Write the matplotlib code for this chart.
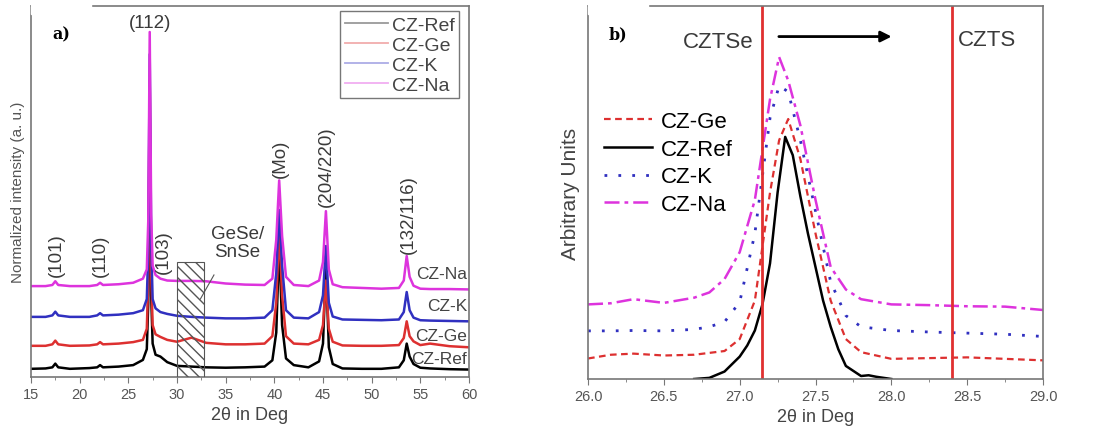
"""
XRD patterns of CZTSe films: full scan (a) and zoom on the (112) reflection (b).
"""

import matplotlib
matplotlib.use('Agg')
import matplotlib.pyplot as plt
from matplotlib.patches import Rectangle

plt.rcParams['font.family'] = ['Liberation Sans', 'DejaVu Sans']

# ---- panel a: full 2theta scan ----
two_theta = [15, 16.5, 17.2, 17.5, 17.8, 19, 21, 21.8, 22.1, 22.4, 24, 25.5, 26.5, 26.9,
             27.05, 27.2, 27.35, 27.5, 27.8, 28.3, 29, 30, 31.5, 33, 35, 37, 39, 39.8,
             40.2, 40.5, 40.8, 41.2, 42, 43.5, 44.6, 45.0, 45.3, 45.6, 46, 47, 49, 51,
             52.8, 53.3, 53.6, 53.9, 54.3, 55, 56, 58, 60]
ref_a = [2.2, 2.3, 2.6, 3.6, 2.6, 2.2, 2.4, 2.6, 3.2, 2.6, 2.8, 3.2, 4.6, 7.5,
         20, 72, 22, 9, 6, 5.5, 4, 3, 2.8, 2.6, 2.5, 2.6, 2.8, 4.5,
         12, 36, 14, 5, 3.2, 2.6, 4.2, 9, 30, 8, 3.5, 2.3, 2.2, 2.2,
         2.6, 4.5, 9, 5.5, 3.5, 2.5, 2.3, 2.1, 2.0]
ge_a = [8.4, 8.4, 8.8, 9.8, 8.8, 8.4, 8.5, 8.8, 9.4, 8.8, 9, 9.4, 10, 13,
        26, 80, 28, 14, 11.5, 10.8, 10, 9.5, 10.6, 9.2, 8.8, 8.8, 9, 11,
        20, 40, 22, 11, 9, 8.8, 10, 14, 26, 13, 9.5, 8.5, 8.4, 8.4,
        8.6, 10.5, 15, 11, 9.6, 8.6, 9, 8.3, 8.0]
k_a = [16.2, 16.2, 16.6, 17.6, 16.6, 16.2, 16.2, 16.6, 17.2, 16.6, 16.8, 17.2, 18, 21,
       34, 87, 36, 21, 18.5, 17.5, 17, 16.5, 16.2, 16, 15.8, 15.8, 16, 18,
       28, 45, 30, 18, 16, 15.8, 17.5, 22, 35.3, 20, 16.3, 15.5, 15.4, 15.3,
       15.5, 17.5, 22.9, 18, 16, 15.3, 15.2, 15.1, 15.0]
na_a = [24.5, 24.5, 24.8, 25.8, 24.8, 24.5, 24.5, 24.8, 25.4, 24.8, 25, 25.4, 26.5, 29,
        42, 93, 44, 30, 27.5, 26.5, 26, 25.9, 25.9, 25.8, 25.2, 24.9, 24.8, 26.5,
        37, 53, 38, 27, 24.8, 24.5, 26, 31, 44.7, 29, 25, 24.2, 24, 23.8,
        24, 26, 32.6, 27, 24.6, 23.8, 23.7, 23.7, 23.6]

# peak labels: (text, x, y, rotation)
peak_labels = [('(101)', 17.6, 33, 90), ('(110)', 22.1, 33, 90), ('(112)', 27.2, 95.5, 0),
               ('(103)', 28.6, 34, 90), ('(Mo)', 40.6, 59, 90),
               ('(204/220)', 45.3, 57, 90), ('(132/116)', 53.8, 44, 90)]
curve_names = ['CZ-Ref', 'CZ-Ge', 'CZ-K', 'CZ-Na']
name_y = [4.9, 11.2, 19.2, 27.8]

# ---- panel b: zoom on (112) ----
ref_x = [26.7, 26.8, 26.9, 27.0, 27.05, 27.1, 27.15, 27.2, 27.25, 27.3, 27.35, 27.4,
         27.45, 27.5, 27.55, 27.6, 27.65, 27.7, 27.8, 27.85, 27.9, 28.0]
ref_b = [0, 0.3, 2, 6, 9, 13, 20, 31, 50, 64.9, 60, 49, 39, 30, 21, 14, 8, 3.5,
         0.8, 1, 0.6, 0]
shift_x = [26.0, 26.15, 26.3, 26.5, 26.7, 26.8, 26.9, 27.0, 27.1, 27.2, 27.26, 27.32,
           27.4, 27.5, 27.6, 27.7, 27.8, 28.0, 28.25, 28.5, 28.75, 29.0]
ge_b = [5.5, 6.5, 6.8, 6.3, 6.5, 7, 7.5, 10.7, 21, 50, 64, 69.7, 59, 39, 21, 10.7,
        7.2, 5.4, 5.6, 5.8, 5.4, 5.0]
k_b = [12.9, 12.9, 13, 12.9, 13.3, 14, 15.3, 20.6, 39, 70, 78.6, 77, 64, 45, 26, 17,
       14, 13, 12.6, 12.3, 12, 11.4]
na_b = [20, 20.3, 21.4, 20.4, 21.8, 23.2, 26.8, 34, 48, 75, 86.3, 80, 68, 48, 30, 24,
        21.4, 20, 19.8, 19.5, 19.4, 18.5]
cztse_pos = 27.15
czts_pos = 28.4

colors = {'CZ-Ref': 'black', 'CZ-Ge': '#dd3030', 'CZ-K': '#3030c0', 'CZ-Na': '#dd33dd'}
spine_col = '#777777'
text_col = '#3a3a3a'

fig = plt.figure(figsize=(10.94, 4.39), dpi=100)
ax1 = fig.add_axes([0.0283, 0.139, 0.4004, 0.845])
ax2 = fig.add_axes([0.5375, 0.1344, 0.4159, 0.8497])

# panel a
for name, ys in zip(curve_names, [ref_a, ge_a, k_a, na_a]):
    ax1.plot(two_theta, ys, color=colors[name], lw=1.8, label=name)

ax1.add_patch(Rectangle((30.0, 0), 2.8, 31, fill=False, hatch='\\\\\\',
                        edgecolor='#555555', lw=0.8, zorder=5))
ax1.text(36.2, 31.5, 'GeSe/\nSnSe', ha='center', va='bottom', fontsize=13.5,
         color=text_col, linespacing=1.05)
ax1.plot([33.8, 32.4], [27.5, 21], color='#555555', lw=0.8)

for txt, x, y, rot in peak_labels:
    ax1.text(x, y, txt, rotation=rot, ha='center', va='center', fontsize=13.5,
             color=text_col)
for name, y in zip(curve_names, name_y):
    ax1.text(59.8, y, name, ha='right', va='center', fontsize=12.5, color='#444444')

ax1.set_xlim(15, 60)
ax1.set_ylim(0, 100)
ax1.set_xticks(range(15, 61, 5))
ax1.set_xticks([x + 2.5 for x in range(15, 60, 5)], minor=True)
ax1.set_yticks([])
ax1.set_xlabel('2θ in Deg', fontsize=13, color='#444444', labelpad=3)
ax1.set_ylabel('Normalized intensity (a. u.)', fontsize=11, color='#555555', labelpad=4)
leg = ax1.legend(loc='upper right', bbox_to_anchor=(1.0, 1.012), fontsize=14,
                 handlelength=2.2, handletextpad=0.2, borderpad=0.25, labelspacing=0.12,
                 fancybox=False, edgecolor=spine_col, framealpha=1)
for h in leg.get_lines():
    h.set_alpha(0.4)
    h.set_linewidth(1.3)
for t in leg.get_texts():
    t.set_color('#444444')
ax1.text(0.05, 0.925, 'a)', transform=ax1.transAxes, fontsize=11.5, fontweight='bold',
         family='DejaVu Serif', ha='left', va='center')

# panel b
ax2.plot(shift_x, ge_b, color=colors['CZ-Ge'], lw=1.6, ls=(0, (3, 2)), label='CZ-Ge')
ax2.plot(ref_x, ref_b, color=colors['CZ-Ref'], lw=1.8, label='CZ-Ref')
ax2.plot(shift_x, k_b, color=colors['CZ-K'], lw=2.0, ls=(0, (1, 4)), label='CZ-K')
ax2.plot(shift_x, na_b, color=colors['CZ-Na'], lw=1.8, ls=(0, (6, 2, 1.5, 2)),
         label='CZ-Na')
ax2.axvline(cztse_pos, color='#e03030', lw=2)
ax2.axvline(czts_pos, color='#e03030', lw=2)
ax2.text(26.86, 90.5, 'CZTSe', ha='center', va='center', fontsize=16, color=text_col)
ax2.text(28.63, 91, 'CZTS', ha='center', va='center', fontsize=16, color=text_col)
ax2.annotate('', xy=(28.02, 91.8), xytext=(27.24, 91.8),
             arrowprops=dict(arrowstyle='-|>', color='black', lw=2, mutation_scale=16))
ax2.text(0.045, 0.925, 'b)', transform=ax2.transAxes, fontsize=11.5, fontweight='bold',
         family='DejaVu Serif', ha='left', va='center')
ax2.legend(loc='upper left', bbox_to_anchor=(0.0, 0.76), fontsize=16, frameon=False,
           handlelength=2.2, handletextpad=0.36, labelspacing=0.3, borderaxespad=0.3)

ax2.set_xlim(26, 29)
ax2.set_ylim(0, 100)
ax2.set_xticks([26 + 0.5 * i for i in range(7)])
ax2.set_xticks([26.25 + 0.5 * i for i in range(6)], minor=True)
ax2.set_yticks([])
ax2.set_xlabel('2θ in Deg', fontsize=13, color='#444444', labelpad=3)
ax2.set_ylabel('Arbitrary Units', fontsize=15, color='#444444', labelpad=6)

for ax in (ax1, ax2):
    for s in ax.spines.values():
        s.set_color(spine_col)
        s.set_linewidth(1.2)
    ax.tick_params(axis='x', which='major', length=4, color=spine_col, labelsize=10.5,
                   labelcolor='#555555')
    ax.tick_params(axis='x', which='minor', length=2.5, color=spine_col)

# white patches hiding the top spine behind the panel letters
fig.patches.append(Rectangle((31 / 1094, 0.965), 60 / 1094, 0.03, transform=fig.transFigure,
                             color='white', zorder=10))
fig.patches.append(Rectangle((588 / 1094, 0.965), 60 / 1094, 0.03, transform=fig.transFigure,
                             color='white', zorder=10))

fig.savefig('out.png', dpi=100)
